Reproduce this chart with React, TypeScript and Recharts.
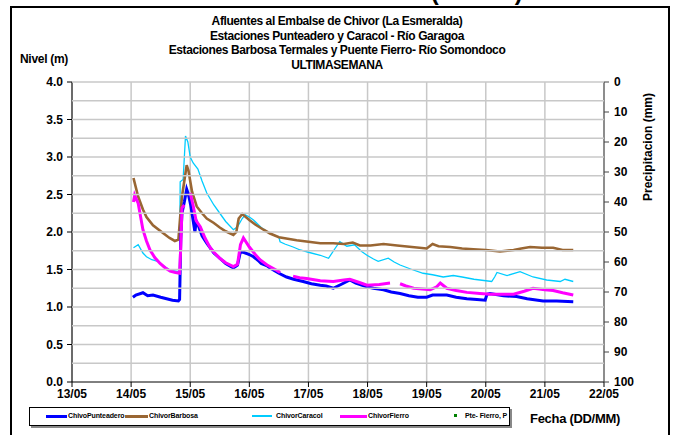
import React from 'react';
import { ComposedChart, Line, XAxis, YAxis, CartesianGrid } from 'recharts';

// [day of May, level in m]
const punteadero: [number, number | null][] = [
  [14.03, 1.13], [14.08, 1.16], [14.2, 1.19], [14.28, 1.15], [14.37, 1.16], [14.5, 1.13], [14.6, 1.11],
  [14.7, 1.09], [14.8, 1.08], [14.82, 1.1], [14.84, 1.9], [14.86, 2.25], [14.9, 2.4], [14.94, 2.57],
  [14.97, 2.5], [15.01, 2.35], [15.05, 2.15], [15.08, 2.0], [15.1, 2.15], [15.14, 2.08], [15.2, 1.95],
  [15.28, 1.85], [15.4, 1.72], [15.5, 1.65], [15.6, 1.58], [15.73, 1.52], [15.8, 1.56], [15.85, 1.74],
  [15.9, 1.73], [16.0, 1.7], [16.07, 1.67], [16.15, 1.62], [16.2, 1.58], [16.3, 1.55], [16.35, 1.52],
  [16.5, 1.45], [16.63, 1.4], [16.75, 1.37], [16.91, 1.34], [17.05, 1.31], [17.2, 1.29], [17.3, 1.28],
  [17.42, 1.25], [17.55, 1.3], [17.7, 1.36], [17.8, 1.32], [17.99, 1.27], [18.1, 1.25], [18.27, 1.23],
  [18.4, 1.2], [18.55, 1.18], [18.7, 1.15], [18.85, 1.13], [19.0, 1.13], [19.1, 1.16], [19.34, 1.16],
  [19.5, 1.13], [19.68, 1.11], [19.85, 1.1], [19.99, 1.09], [20.02, 1.17], [20.07, 1.18], [20.3, 1.15],
  [20.52, 1.14], [20.7, 1.11], [20.97, 1.08], [21.2, 1.08], [21.48, 1.07],
];

const barbosa: [number, number | null][] = [
  [14.04, 2.72], [14.12, 2.47], [14.2, 2.3], [14.26, 2.2], [14.37, 2.09], [14.55, 1.98], [14.65, 1.92],
  [14.74, 1.88], [14.8, 1.9], [14.83, 2.2], [14.86, 2.47], [14.94, 2.89], [14.97, 2.82], [15.03, 2.54],
  [15.11, 2.34], [15.2, 2.25], [15.28, 2.18], [15.4, 2.12], [15.5, 2.06], [15.6, 2.01], [15.73, 1.96],
  [15.78, 2.0], [15.82, 2.18], [15.88, 2.24], [16.0, 2.16], [16.1, 2.1], [16.24, 2.03], [16.35, 1.98],
  [16.5, 1.93], [16.65, 1.91], [16.8, 1.89], [17.0, 1.87], [17.2, 1.85], [17.42, 1.85], [17.6, 1.84],
  [17.75, 1.86], [17.87, 1.82], [18.05, 1.82], [18.27, 1.84], [18.5, 1.82], [18.75, 1.8], [19.0, 1.78],
  [19.1, 1.84], [19.2, 1.81], [19.4, 1.8], [19.6, 1.78], [19.79, 1.77], [20.0, 1.76], [20.24, 1.74],
  [20.47, 1.76], [20.6, 1.78], [20.75, 1.8], [20.95, 1.79], [21.14, 1.79], [21.3, 1.76], [21.48, 1.76],
];

const caracol: [number, number | null][] = [
  [14.04, 1.79], [14.12, 1.83], [14.2, 1.72], [14.26, 1.67], [14.35, 1.63], [14.45, 1.61], [14.55, 1.55],
  [14.66, 1.49], [14.8, 1.47], [14.82, 1.5], [14.83, 2.67], [14.88, 2.7], [14.92, 3.28], [14.96, 3.2],
  [15.0, 3.0], [15.05, 2.92], [15.13, 2.84], [15.2, 2.68], [15.28, 2.52], [15.4, 2.36], [15.5, 2.25],
  [15.6, 2.14], [15.73, 2.03], [15.8, 2.07], [15.88, 2.18], [15.93, 2.23], [16.0, 2.2], [16.07, 2.16],
  [16.2, 2.06], [16.35, 1.98], [16.5, 1.93], [16.52, 1.87], [16.6, 1.84], [16.74, 1.8], [16.86, 1.76],
  [17.0, 1.73], [17.2, 1.69], [17.34, 1.65], [17.45, 1.78], [17.53, 1.87], [17.65, 1.81], [17.78, 1.83],
  [17.9, 1.74], [17.99, 1.69], [18.1, 1.64], [18.18, 1.61], [18.35, 1.65], [18.45, 1.6], [18.55, 1.56],
  [18.75, 1.5], [18.94, 1.45], [19.1, 1.43], [19.28, 1.4], [19.45, 1.42], [19.6, 1.4], [19.8, 1.37],
  [20.1, 1.34], [20.15, 1.4], [20.19, 1.46], [20.36, 1.42], [20.58, 1.47], [20.8, 1.4], [21.03, 1.36],
  [21.26, 1.34], [21.34, 1.37], [21.48, 1.34],
];

const fierro: [number, number | null][] = [
  [14.04, 2.4], [14.06, 2.49], [14.12, 2.38], [14.2, 2.03], [14.26, 1.88], [14.32, 1.76], [14.4, 1.66],
  [14.49, 1.58], [14.58, 1.52], [14.66, 1.48], [14.75, 1.46], [14.82, 1.45], [14.84, 1.8], [14.86, 2.32],
  [14.9, 2.36], [14.95, null], [15.0, 2.52], [15.05, 2.35], [15.1, 2.15], [15.17, 2.07], [15.25, 1.92],
  [15.33, 1.8], [15.4, 1.73], [15.5, 1.65], [15.6, 1.59], [15.73, 1.54], [15.8, 1.57], [15.85, 1.83],
  [15.9, 1.92], [16.0, 1.8], [16.1, 1.7], [16.18, 1.63], [16.3, 1.56], [16.46, 1.49], [16.52, 1.46],
  [16.6, null], [16.74, 1.41], [16.85, 1.39], [16.97, 1.38], [17.2, 1.35], [17.42, 1.34], [17.6, 1.36],
  [17.7, 1.37], [17.85, 1.33], [17.99, 1.29], [18.2, 1.3], [18.38, 1.32], [18.46, null], [18.55, 1.31],
  [18.65, 1.28], [18.78, 1.25], [19.06, 1.23], [19.17, 1.27], [19.23, 1.32], [19.34, 1.25], [19.5, 1.22],
  [19.68, 1.195], [19.9, 1.18], [20.07, 1.17], [20.3, 1.17], [20.47, 1.17], [20.65, 1.21], [20.8, 1.25],
  [21.0, 1.23], [21.14, 1.22], [21.3, 1.19], [21.48, 1.16],
];

// Pte- Fierro precipitation: no readings drawn in the reference
const fierroPrecip: [number, number | null][] = [[14, null], [21.5, null]];

const dayTicks = [13, 14, 15, 16, 17, 18, 19, 20, 21, 22];
const nivelTicks = [0, 0.25, 0.5, 0.75, 1, 1.25, 1.5, 1.75, 2, 2.25, 2.5, 2.75, 3, 3.25, 3.5, 3.75, 4];
const precipTicks = [0, 10, 20, 30, 40, 50, 60, 70, 80, 90, 100];

const titleLines = [
  'Afluentes al Embalse de Chivor (La Esmeralda)',
  'Estaciones Punteadero y Caracol - Río Garagoa',
  'Estaciones Barbosa Termales y Puente Fierro- Río Somondoco',
  'ULTIMASEMANA',
];

const legendItems = [
  { name: 'ChivoPunteadero', color: '#0000ff', lineX: 46, lineW: 21, textX: 68, h: 3 },
  { name: 'ChivorBarbosa', color: '#996633', lineX: 125, lineW: 23, textX: 149, h: 3 },
  { name: 'ChivorCaracol', color: '#00ccff', lineX: 252, lineW: 20, textX: 276, h: 1.5 },
  { name: 'ChivorFierro', color: '#ff00ff', lineX: 340, lineW: 27, textX: 368, h: 3 },
];

const toPoints = (pairs: [number, number | null][]) => pairs.map(([d, v]) => ({ d, v }));

const CHART_W = 674;
const CHART_H = 435;
const LEFT_W = 72;
const RIGHT_W = 70;
const PLOT_W = CHART_W - LEFT_W - RIGHT_W;
const TICK = 5;
const TICK_GAP = 4;
const SERIES_Z = 800;

const font = '"Liberation Sans", Arial, sans-serif';
const tickStyle = { fontSize: 12, fontWeight: 700, fill: '#000', fontFamily: font };
const legendText = { position: 'absolute' as const, top: 410, fontSize: 7, fontWeight: 700, lineHeight: '12px', whiteSpace: 'nowrap' as const, letterSpacing: -0.1 };

// left axis tick: light gridline across the plot, plus mark and label on the 0.5 steps
function NivelTick(props: any) {
  const { x, y, payload } = props;
  const v = payload.value as number;
  const axisX = x + TICK + TICK_GAP;
  const major = Math.abs(v * 2 - Math.round(v * 2)) < 1e-6;
  return (
    <g>
      {v > 0 && <line x1={axisX} x2={axisX + PLOT_W} y1={y} y2={y} stroke="#c8c8c8" strokeWidth={1.5} />}
      {major && <line x1={axisX - TICK} x2={axisX} y1={y} y2={y} stroke="#000" />}
      {major && (
        <text x={x} y={y} dy="0.35em" textAnchor="end" {...tickStyle}>
          {v.toFixed(1)}
        </text>
      )}
    </g>
  );
}

export default function App() {
  const lineZ: any = { zIndex: SERIES_Z };
  return (
    <div style={{ position: 'absolute', left: 0, top: 0, width: CHART_W, height: CHART_H, overflow: 'hidden', background: '#fff', fontFamily: font }}>
      <div style={{ position: 'absolute', left: 20, top: -22, fontSize: 24, fontWeight: 700, whiteSpace: 'nowrap' }}>
        Niveles de los afluentes al Embalse (Chivor)
      </div>
      <div style={{ position: 'absolute', left: 10, top: 6, width: 656, height: 450, border: '2.5px solid #000', background: '#fff' }} />

      {titleLines.map((t, i) => (
        <div
          key={t}
          style={{ position: 'absolute', left: 0, width: CHART_W, top: 14 + i * 14.5, textAlign: 'center', fontSize: 12, fontWeight: 700, letterSpacing: -0.4, lineHeight: '15px' }}
        >
          {t}
        </div>
      ))}
      <div style={{ position: 'absolute', left: 20, top: 52, fontSize: 12, fontWeight: 700, letterSpacing: -0.3 }}>Nivel (m)</div>
      <div
        style={{ position: 'absolute', left: 648, top: 147, fontSize: 12, fontWeight: 700, whiteSpace: 'nowrap', transform: 'translate(-50%, -50%) rotate(-90deg)' }}
      >
        Precipitacion (mm)
      </div>
      <div style={{ position: 'absolute', left: 530, top: 411, fontSize: 13, fontWeight: 700, letterSpacing: -0.3, whiteSpace: 'nowrap' }}>Fecha (DD/MM)</div>

      <div style={{ position: 'absolute', left: 0, top: 0 }}>
        <ComposedChart width={CHART_W} height={CHART_H} margin={{ top: 82, right: 0, left: 0, bottom: 28 }}>
          <CartesianGrid stroke="#c8c8c8" strokeWidth={1.5} horizontal={false} verticalValues={dayTicks} />
          <XAxis
            dataKey="d"
            type="number"
            domain={[13, 22]}
            ticks={dayTicks}
            height={25}
            tickFormatter={(d: number) => `${d}/05`}
            tick={tickStyle}
            tickSize={5}
            tickMargin={2}
            stroke="#000"
            allowDataOverflow
          />
          <YAxis
            domain={[0, 4]}
            ticks={nivelTicks}
            interval={0}
            width={LEFT_W}
            tick={<NivelTick />}
            tickLine={false}
            tickSize={TICK}
            tickMargin={TICK_GAP}
            stroke="#000"
            allowDataOverflow
          />
          <YAxis
            yAxisId="p"
            orientation="right"
            domain={[0, 100]}
            reversed
            ticks={precipTicks}
            width={RIGHT_W}
            tick={tickStyle}
            tickSize={5}
            tickMargin={5}
            stroke="#444"
            allowDataOverflow
          />
          <Line yAxisId="p" data={toPoints(fierroPrecip)} dataKey="v" stroke="#008000" dot={false} isAnimationActive={false} {...lineZ} />
          <Line data={toPoints(caracol)} dataKey="v" stroke="#00ccff" strokeWidth={1.3} dot={false} isAnimationActive={false} {...lineZ} />
          <Line data={toPoints(barbosa)} dataKey="v" stroke="#996633" strokeWidth={2.6} dot={false} isAnimationActive={false} {...lineZ} />
          <Line data={toPoints(punteadero)} dataKey="v" stroke="#0000ff" strokeWidth={3} dot={false} isAnimationActive={false} {...lineZ} />
          <Line data={toPoints(fierro)} dataKey="v" stroke="#ff00ff" strokeWidth={3} dot={false} isAnimationActive={false} {...lineZ} />
        </ComposedChart>
      </div>

      <div style={{ position: 'absolute', left: 29, top: 407, width: 479, height: 17, border: '1px solid #000', boxShadow: '2px 2px 0 #888', background: '#fff' }} />
      {legendItems.map((it) => (
        <React.Fragment key={it.name}>
          <div style={{ position: 'absolute', left: it.lineX, top: 416 - it.h / 2, width: it.lineW, height: it.h, background: it.color }} />
          <div style={{ ...legendText, left: it.textX }}>{it.name}</div>
        </React.Fragment>
      ))}
      <div style={{ position: 'absolute', left: 454, top: 414, width: 3, height: 3, background: '#008000' }} />
      <div style={{ ...legendText, left: 465 }}>Pte- Fierro, P</div>
    </div>
  );
}
